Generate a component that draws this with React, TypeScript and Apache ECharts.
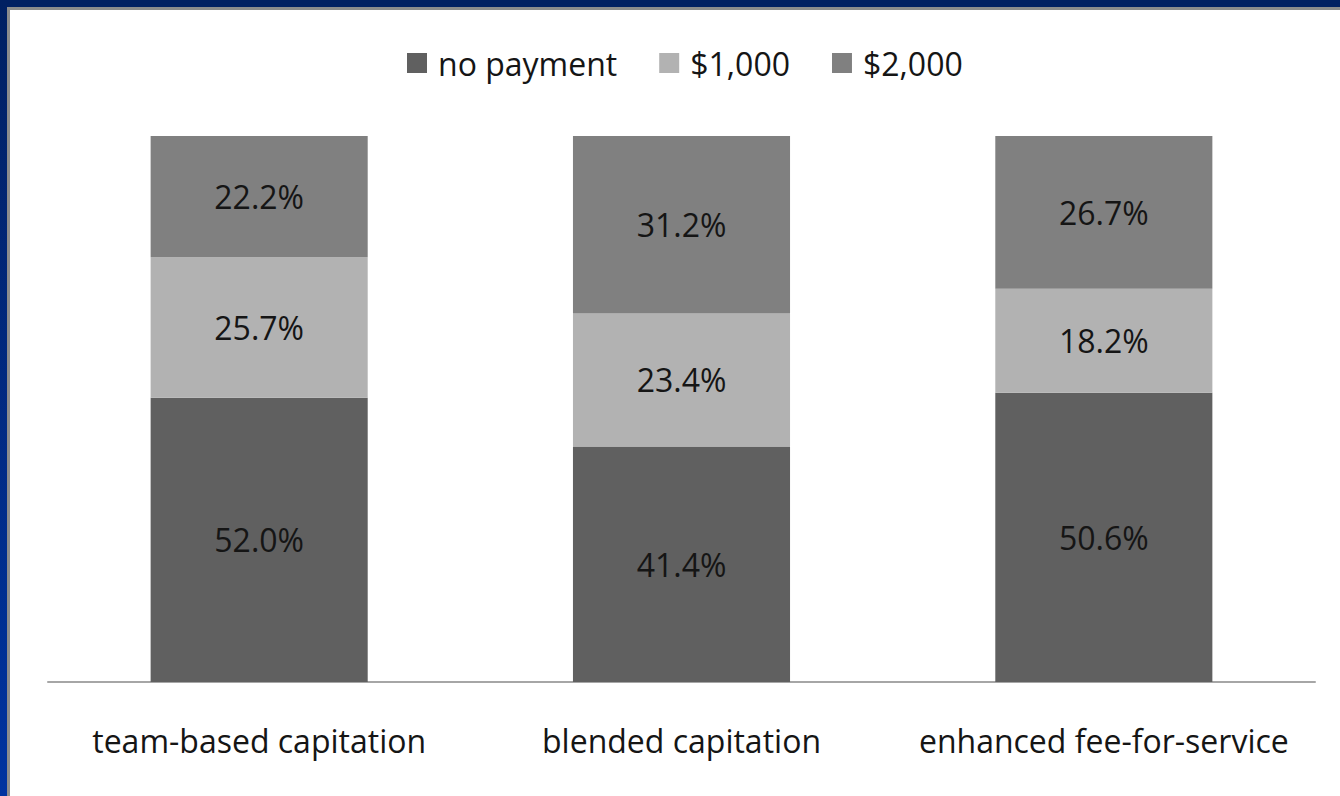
import React, { useEffect, useRef } from "react";
import * as echarts from "echarts";

const categories = ["team-based capitation", "blended capitation", "enhanced fee-for-service"];
const seriesNames = ["no payment", "$1,000", "$2,000"];
const noPayment = [52.0, 41.4, 50.6];
const pay1000 = [25.7, 23.4, 18.2];
const pay2000 = [22.2, 31.2, 26.7];
const colors = ["#606060", "#b2b2b2", "#808080"];

export default function App() {
  const ref = useRef<HTMLDivElement>(null);
  useEffect(() => {
    if (!ref.current) return;
    const chart = echarts.init(ref.current, undefined, { renderer: "svg" });
    const raw = [noPayment, pay1000, pay2000];
    const totals = categories.map((_, i) => raw.reduce((s, arr) => s + arr[i], 0));
    const font = "'Open Sans', sans-serif";
    const series = raw.map((arr, si) => ({
      name: seriesNames[si],
      type: "bar",
      stack: "total",
      barWidth: "51.4%",
      itemStyle: { color: colors[si] },
      label: {
        show: true,
        position: "inside",
        color: "#151515",
        fontFamily: font,
        fontSize: 32,
        formatter: (p: any) => arr[p.dataIndex].toFixed(1) + "%",
      },
      emphasis: { disabled: true },
      data: arr.map((v, i) => (v / totals[i]) * 100),
    }));
    chart.setOption({
      animation: false,
      backgroundColor: "#ffffff",
      legend: {
        left: 402,
        top: 42,
        itemWidth: 20,
        itemHeight: 20,
        itemGap: 42,
        icon: "rect",
        textStyle: {
          fontFamily: font,
          fontSize: 32,
          color: "#151515",
          lineHeight: 32,
          padding: [0, 0, 0, 6],
        },
        data: seriesNames,
      },
      grid: { left: 48, right: 25, top: 136, bottom: 114 },
      xAxis: {
        type: "category",
        data: categories,
        axisLine: { lineStyle: { color: "#a6a6a6", width: 2 } },
        axisTick: { show: false },
        axisLabel: {
          interval: 0,
          fontFamily: font,
          fontSize: 32,
          color: "#151515",
          margin: 38,
          lineHeight: 40,
        },
      },
      yAxis: {
        type: "value",
        min: 0,
        max: 100,
        show: false,
        splitLine: { show: false },
      },
      graphic: [
        { type: "rect", shape: { x: 0, y: 0, width: 1340, height: 7 }, style: { fill: "#012062" }, silent: true },
        {
          type: "rect",
          shape: { x: 0, y: 0, width: 7, height: 796 },
          style: {
            fill: new echarts.graphic.LinearGradient(0, 0, 0, 1, [
              { offset: 0, color: "#012062" },
              { offset: 1, color: "#0033a0" },
            ]),
          },
          silent: true,
        },
        { type: "rect", shape: { x: 7, y: 7, width: 1333, height: 3 }, style: { fill: "#8c8c8c" }, silent: true },
        { type: "rect", shape: { x: 7, y: 7, width: 3, height: 789 }, style: { fill: "#8c8c8c" }, silent: true },
      ],
      series,
    });
    return () => chart.dispose();
  }, []);
  return (
    <div
      ref={ref}
      style={{ position: "absolute", left: 0, top: 0, width: 1340, height: 796 }}
    />
  );
}
